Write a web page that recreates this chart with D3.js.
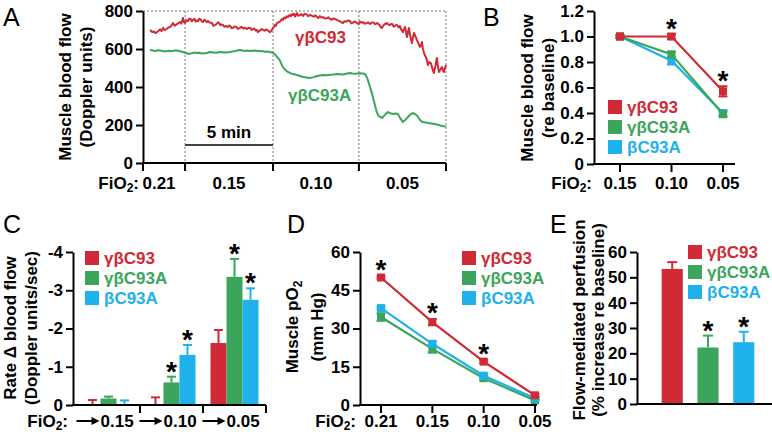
<!DOCTYPE html>
<html>
<head>
<meta charset="utf-8">
<script src="https://cdn.jsdelivr.net/npm/d3@7"></script>
<style>
  body { margin: 0; background: #fff; }
  svg { font-family: "Liberation Sans", Arial, Helvetica, sans-serif; }
</style>
</head>
<body>
<svg width="772" height="432"></svg>
<script>
// ---- data ----
var strains = ["γβC93", "γβC93A", "βC93A"];
var colors = ["#cf2a35", "#3ba65b", "#1fb1ea"];

// A: raw laser-Doppler traces, [minutes, Doppler units]
var redTrace = [[0.40,700],[0.52,690],[0.62,692],[0.70,684],[0.80,689],[0.90,697],[0.97,703],[1.05,694],[1.14,711],[1.22,700],[1.30,702],[1.42,712],[1.53,716],[1.62,724],[1.70,737],[1.80,722],[1.88,728],[2.00,735],[2.10,742],[2.18,733],[2.27,763],[2.33,741],[2.39,737],[2.47,752],[2.56,747],[2.63,760],[2.70,758],[2.77,746],[2.84,753],[2.92,759],[3.00,744],[3.07,751],[3.13,747],[3.20,760],[3.27,756],[3.34,745],[3.41,742],[3.48,754],[3.55,750],[3.62,741],[3.69,747],[3.80,739],[3.92,737],[4.00,722],[4.09,726],[4.20,733],[4.26,741],[4.32,737],[4.40,725],[4.45,729],[4.55,726],[4.62,717],[4.70,721],[4.83,716],[4.90,724],[4.97,719],[5.04,709],[5.11,711],[5.20,719],[5.30,716],[5.40,706],[5.51,711],[5.60,717],[5.70,708],[5.80,712],[5.91,705],[6.00,712],[6.10,711],[6.18,700],[6.25,705],[6.32,708],[6.40,697],[6.47,701],[6.53,689],[6.59,694],[6.65,698],[6.76,705],[6.84,700],[6.90,696],[6.98,703],[7.05,700],[7.14,694],[7.22,689],[7.30,697],[7.39,711],[7.45,718],[7.50,726],[7.55,721],[7.61,737],[7.70,740],[7.80,745],[7.88,757],[7.95,753],[8.02,766],[8.10,761],[8.17,772],[8.24,768],[8.32,778],[8.40,772],[8.46,784],[8.52,779],[8.58,786],[8.65,771],[8.70,780],[8.75,789],[8.83,775],[8.92,778],[9.00,784],[9.09,774],[9.18,785],[9.30,782],[9.38,773],[9.49,779],[9.58,776],[9.70,770],[9.78,777],[9.89,768],[9.96,763],[10.05,773],[10.14,765],[10.23,768],[10.34,760],[10.45,762],[10.53,767],[10.63,758],[10.72,754],[10.82,761],[10.92,757],[11.02,753],[11.10,749],[11.20,745],[11.28,740],[11.36,737],[11.45,746],[11.55,744],[11.65,750],[11.76,747],[11.85,735],[11.95,740],[12.05,745],[12.16,737],[12.25,731],[12.33,745],[12.42,738],[12.50,742],[12.60,733],[12.70,736],[12.80,740],[12.90,732],[13.00,740],[13.10,739],[13.20,730],[13.30,737],[13.38,731],[13.45,725],[13.52,713],[13.58,711],[13.65,722],[13.72,730],[13.80,733],[13.86,737],[13.95,729],[14.03,726],[14.10,732],[14.18,730],[14.25,717],[14.32,721],[14.40,727],[14.46,724],[14.53,714],[14.60,721],[14.68,702],[14.77,689],[14.83,703],[14.89,716],[14.95,690],[15.00,663],[15.05,684],[15.11,711],[15.18,672],[15.28,631],[15.34,660],[15.40,684],[15.48,668],[15.57,647],[15.65,630],[15.74,611],[15.80,620],[15.85,637],[15.91,600],[15.97,580],[16.03,565],[16.08,558],[16.14,540],[16.19,516],[16.27,531],[16.36,526],[16.45,495],[16.53,474],[16.62,512],[16.70,553],[16.76,510],[16.82,479],[16.90,492],[16.99,505],[17.05,488],[17.10,479],[17.16,497],[17.22,516]];
var greenTrace = [[0.40,595],[0.55,592],[0.68,589],[0.82,593],[0.97,592],[1.10,589],[1.25,587],[1.38,590],[1.50,591],[1.60,588],[1.70,589],[1.85,593],[1.99,591],[2.12,588],[2.27,584],[2.38,580],[2.45,580],[2.56,574],[2.66,576],[2.78,578],[2.92,581],[3.07,579],[3.20,580],[3.35,576],[3.50,578],[3.64,579],[3.80,584],[3.98,582],[4.18,580],[4.38,584],[4.52,583],[4.66,581],[4.80,583],[4.94,584],[5.10,587],[5.23,589],[5.37,592],[5.51,595],[5.65,592],[5.80,590],[5.94,592],[6.08,589],[6.22,591],[6.36,592],[6.50,590],[6.65,589],[6.80,588],[6.93,586],[7.08,587],[7.22,584],[7.30,583],[7.39,579],[7.46,575],[7.52,570],[7.61,558],[7.70,550],[7.78,540],[7.86,522],[7.95,505],[8.02,497],[8.10,490],[8.24,479],[8.38,473],[8.52,468],[8.64,466],[8.75,463],[8.92,458],[9.09,453],[9.30,450],[9.49,447],[9.70,452],[9.89,458],[10.05,461],[10.23,463],[10.43,462],[10.63,465],[10.82,466],[11.02,468],[11.20,467],[11.36,466],[11.55,470],[11.76,474],[11.90,471],[12.05,470],[12.20,471],[12.33,472],[12.48,471],[12.61,468],[12.70,455],[12.78,437],[12.84,418],[12.90,400],[12.95,385],[13.01,368],[13.10,333],[13.18,305],[13.26,276],[13.35,253],[13.45,244],[13.58,237],[13.66,245],[13.75,253],[13.84,262],[13.92,268],[14.05,262],[14.20,258],[14.35,261],[14.49,258],[14.62,235],[14.77,216],[14.92,228],[15.06,242],[15.20,256],[15.34,263],[15.45,258],[15.57,250],[15.72,230],[15.85,216],[16.02,214],[16.19,211],[16.40,208],[16.59,205],[16.80,200],[16.99,195],[17.10,193],[17.22,192]];
var phaseLabels = ["0.21", "0.15", "0.10", "0.05"];
var phaseEdges = [0, 2.39, 7.39, 12.27, 17.22];
var flowTicks = [0, 200, 400, 600, 800];

// B: flow relative to baseline
var bFiO2 = ["0.15", "0.10", "0.05"];
var bRed = [1.00, 1.00, 0.57], bRedErr = [0.01, 0.02, 0.04];
var bGreen = [1.00, 0.86, 0.39], bGreenErr = [0.01, 0.02, 0.02];
var bBlue = [1.00, 0.81, 0.40], bBlueErr = [0.01, 0.03, 0.02];
var bRedStar = [0, 1, 1];
var bTicks = [0, 0.2, 0.4, 0.6, 0.8, 1.0, 1.2];

// C: rate of change of blood flow
var cFiO2 = ["0.15", "0.10", "0.05"];
var cRed = [-0.01, 0, -1.62], cRedErr = [0.12, 0.2, 0.34];
var cGreen = [-0.17, -0.59, -3.35], cGreenErr = [0.05, 0.15, 0.47];
var cBlue = [0, -1.31, -2.75], cBlueErr = [0.12, 0.26, 0.3];
var cGreenStar = [0, 1, 1], cBlueStar = [0, 1, 1];
var cTicks = [0, -1, -2, -3, -4];

// D: muscle pO2
var dFiO2 = ["0.21", "0.15", "0.10", "0.05"];
var dRed = [50, 32.5, 17, 3.8], dRedErr = [0.5, 1.2, 0.6, 0.5];
var dGreen = [34.5, 22, 10.5, 1.8], dGreenErr = [1.5, 1.5, 0.6, 0.5];
var dBlue = [38, 24, 11.5, 2.6], dBlueErr = [0.6, 1.0, 0.6, 0.5];
var dRedStar = [1, 1, 1, 0];
var dTicks = [0, 15, 30, 45, 60];

// E: flow-mediated perfusion
var eMean = [53.3, 22.3, 24.4], eErr = [2.7, 4.7, 4.1];
var eStar = [0, 1, 1];
var eTicks = [0, 10, 20, 30, 40, 50, 60];

// ---- helpers ----
var svg = d3.select("svg");
var FS = 17;

function yAxis(g, y, x, ticks, fmt) {
  var ax = g.append("g")
    .attr("transform", "translate(" + x + ",0)")
    .call(d3.axisLeft(y).tickValues(ticks).tickFormat(fmt).tickSize(7).tickSizeOuter(0).tickPadding(3));
  ax.attr("font-family", null).attr("font-size", null);
  ax.select(".domain").attr("stroke-width", 2);
  ax.selectAll(".tick line").attr("stroke-width", 2);
  ax.selectAll(".tick text").attr("font-size", FS).attr("font-weight", "bold").attr("fill", "#000");
}

function xLine(g, x0, x1, y, ticks) {
  g.append("line").attr("x1", x0 - 1).attr("x2", x1).attr("y1", y).attr("y2", y)
    .attr("stroke", "#000").attr("stroke-width", 2);
  g.selectAll(null).data(ticks).enter().append("line")
    .attr("x1", d => d).attr("x2", d => d).attr("y1", y).attr("y2", y + 8)
    .attr("stroke", "#000").attr("stroke-width", 2);
}

function yLabel(g, x, y, lines, gap) {
  var t = g.append("text")
    .attr("transform", "translate(" + x + "," + y + ") rotate(-90)")
    .attr("text-anchor", "middle").attr("font-weight", "bold").attr("font-size", FS);
  lines.forEach((l, i) => {
    t.append("tspan").attr("x", 0).attr("dy", i === 0 ? "0.35em" : (gap || 21)).text(l);
  });
  return t;
}

function fio2(g, xEnd, y) {
  var t = g.append("text").attr("x", xEnd).attr("y", y).attr("text-anchor", "end")
    .attr("font-weight", "bold").attr("font-size", FS);
  t.append("tspan").text("FiO");
  t.append("tspan").attr("font-size", 12).attr("dy", 3).text("2");
  t.append("tspan").attr("dy", -3).text(":");
}

function panelLetter(x, y, s) {
  svg.append("text").attr("x", x).attr("y", y).attr("font-size", 25).text(s);
}

function legend(g, x, y, dy) {
  strains.forEach((s, i) => {
    g.append("rect").attr("x", x).attr("y", y + i * dy - 7).attr("width", 14).attr("height", 14)
      .attr("fill", colors[i]);
    g.append("text").attr("x", x + 19).attr("y", y + i * dy + 6)
      .attr("font-weight", "bold").attr("font-size", FS).attr("fill", colors[i]).text(s);
  });
}

function star(g, x, y) {
  g.append("text").attr("x", x).attr("y", y + 16).attr("text-anchor", "middle")
    .attr("font-weight", "bold").attr("font-size", 28).text("*");
}

function errBar(g, x, y1, y2, color, cap, both) {
  g.append("line").attr("x1", x).attr("x2", x).attr("y1", y1).attr("y2", y2)
    .attr("stroke", color).attr("stroke-width", 2);
  g.append("line").attr("x1", x - cap / 2).attr("x2", x + cap / 2).attr("y1", y2).attr("y2", y2)
    .attr("stroke", color).attr("stroke-width", 2);
  if (both) g.append("line").attr("x1", x - cap / 2).attr("x2", x + cap / 2).attr("y1", y1).attr("y2", y1)
    .attr("stroke", color).attr("stroke-width", 2);
}

// ---- A ----
var gA = svg.append("g");
var xA = d3.scaleLinear().domain([0, 17.22]).range([143, 446]);
var yA = d3.scaleLinear().domain([0, 800]).range([163, 11]);

gA.selectAll(".grid").data(phaseEdges.slice(1)).enter().append("line")
  .attr("x1", d => xA(d)).attr("x2", d => xA(d)).attr("y1", yA(800)).attr("y2", yA(0))
  .attr("stroke", "#777").attr("stroke-width", 1).attr("stroke-dasharray", "2,2");
gA.append("line").attr("x1", xA(0)).attr("x2", xA(17.22)).attr("y1", yA(800)).attr("y2", yA(800))
  .attr("stroke", "#777").attr("stroke-width", 1).attr("stroke-dasharray", "2,2");

var lineA = d3.line().x(d => xA(d[0])).y(d => yA(d[1]));
gA.append("path").datum(redTrace).attr("d", lineA).attr("fill", "none")
  .attr("stroke", colors[0]).attr("stroke-width", 2).attr("stroke-linejoin", "round");
gA.append("path").datum(greenTrace).attr("d", lineA).attr("fill", "none")
  .attr("stroke", colors[1]).attr("stroke-width", 2).attr("stroke-linejoin", "round");

yAxis(gA, yA, 143, flowTicks, d3.format("d"));
xLine(gA, 143, 446, 163, phaseEdges.map(xA));
gA.selectAll(".ph").data(phaseLabels).enter().append("text")
  .attr("x", (d, i) => xA((phaseEdges[i] + phaseEdges[i + 1]) / 2) - (i === 0 ? 5 : 0))
  .attr("y", 189).attr("text-anchor", "middle").attr("font-weight", "bold").attr("font-size", FS).text(d => d);
fio2(gA, 139, 189);
yLabel(gA, 65, 87, ["Muscle blood flow", "(Doppler units)"]);

// scale bar
gA.append("line").attr("x1", xA(phaseEdges[1])).attr("x2", xA(phaseEdges[1] + 5))
  .attr("y1", yA(95)).attr("y2", yA(95)).attr("stroke", "#444").attr("stroke-width", 2);
gA.append("text").attr("x", xA(phaseEdges[1] + 2.5)).attr("y", yA(95) - 7).attr("text-anchor", "middle")
  .attr("font-weight", "bold").attr("font-size", FS).text("5 min");
gA.append("text").attr("x", 295).attr("y", 43).attr("font-weight", "bold").attr("font-size", FS)
  .attr("fill", colors[0]).text(strains[0]);
gA.append("text").attr("x", 288).attr("y", 101).attr("font-weight", "bold").attr("font-size", FS)
  .attr("fill", colors[1]).text(strains[1]);
panelLetter(3, 26, "A");

// ---- B ----
var gB = svg.append("g");
var xB = d3.scalePoint().domain(bFiO2).range([620, 723]);
var yB = d3.scaleLinear().domain([0, 1.2]).range([164, 11]);
yAxis(gB, yB, 594, bTicks, d => d === 0 ? "0" : d3.format(".1f")(d));
xLine(gB, 594, 735, 164, bFiO2.map(xB));
gB.selectAll(".xl").data(bFiO2).enter().append("text")
  .attr("x", d => xB(d)).attr("y", 189).attr("text-anchor", "middle")
  .attr("font-weight", "bold").attr("font-size", FS).text(d => d);
fio2(gB, 592, 189);
yLabel(gB, 527, 88, ["Muscle blood flow", "(re baseline)"]);

[[bBlue, bBlueErr, 2], [bGreen, bGreenErr, 1], [bRed, bRedErr, 0]].forEach(s => {
  var vals = s[0], errs = s[1], c = colors[s[2]];
  gB.append("path").datum(vals)
    .attr("d", d3.line().x((d, i) => xB(bFiO2[i])).y(d => yB(d)))
    .attr("fill", "none").attr("stroke", c).attr("stroke-width", 2.2);
  vals.forEach((v, i) => {
    errBar(gB, xB(bFiO2[i]), yB(v - errs[i]), yB(v + errs[i]), c, 9, true);
    gB.append("rect").attr("x", xB(bFiO2[i]) - 4).attr("y", yB(v) - 4).attr("width", 8).attr("height", 8).attr("fill", c);
  });
});
bRed.forEach((v, i) => { if (bRedStar[i]) star(gB, xB(bFiO2[i]), yB(v + bRedErr[i]) - 12); });
legend(gB, 608, 107, 20);
panelLetter(483, 26, "B");

// ---- C ----
var gC = svg.append("g");
var xC = d3.scaleBand().domain(cFiO2).range([77, 266]).paddingInner(0.238).paddingOuter(0.119);
var xCs = d3.scaleBand().domain(strains).range([0, xC.bandwidth()]);
var yC = d3.scaleLinear().domain([0, -4]).range([405, 252]);
[[cRed, cRedErr, 0, null], [cGreen, cGreenErr, 1, cGreenStar], [cBlue, cBlueErr, 2, cBlueStar]].forEach(s => {
  var vals = s[0], errs = s[1], k = s[2], stars = s[3];
  vals.forEach((v, i) => {
    var x = xC(cFiO2[i]) + xCs(strains[k]);
    var cx = x + xCs.bandwidth() / 2;
    errBar(gC, cx, yC(v), yC(v - errs[i]), colors[k], 9, false);
    if (v !== 0) gC.append("rect").attr("x", x).attr("y", yC(v)).attr("width", xCs.bandwidth())
      .attr("height", yC(0) - yC(v)).attr("fill", colors[k]);
    if (stars && stars[i]) star(gC, cx, yC(v - errs[i]) - 12);
  });
});
yAxis(gC, yC, 73, cTicks, d => String(d));
xLine(gC, 73, 266, 405, cFiO2.map(d => xC(d) + xC.bandwidth() + xC.step() * 0.119));
// group labels with arrows
cFiO2.forEach(d => {
  var c = xC(d) + xC.bandwidth() / 2;
  gC.append("line").attr("x1", c - 32).attr("x2", c - 15).attr("y1", 421).attr("y2", 421)
    .attr("stroke", "#000").attr("stroke-width", 2);
  gC.append("path").attr("d", "M" + (c - 17) + ",417 L" + (c - 9) + ",421 L" + (c - 17) + ",425 Z").attr("fill", "#000");
  gC.append("text").attr("x", c - 8).attr("y", 427).attr("font-weight", "bold").attr("font-size", FS).text(d);
});
fio2(gC, 68, 427);
yLabel(gC, 10, 328, ["Rate \u0394 blood flow", "(Doppler units/sec)"]);
legend(gC, 85, 258, 20);
panelLetter(3, 233, "C");

// ---- D ----
var gD = svg.append("g");
var xD = d3.scalePoint().domain(dFiO2).range([381, 535]);
var yD = d3.scaleLinear().domain([0, 60]).range([405, 252]);
[[dGreen, dGreenErr, 1], [dBlue, dBlueErr, 2], [dRed, dRedErr, 0]].forEach(s => {
  var vals = s[0], errs = s[1], c = colors[s[2]];
  gD.append("path").datum(vals)
    .attr("d", d3.line().x((d, i) => xD(dFiO2[i])).y(d => yD(d)))
    .attr("fill", "none").attr("stroke", c).attr("stroke-width", 2.2);
  vals.forEach((v, i) => {
    errBar(gD, xD(dFiO2[i]), yD(v - errs[i]), yD(v + errs[i]), c, 9, true);
    gD.append("rect").attr("x", xD(dFiO2[i]) - 4).attr("y", yD(v) - 4).attr("width", 8).attr("height", 8).attr("fill", c);
  });
});
dRed.forEach((v, i) => { if (dRedStar[i]) star(gD, xD(dFiO2[i]), yD(v + dRedErr[i]) - 13); });
yAxis(gD, yD, 360, dTicks, d3.format("d"));
xLine(gD, 360, 537, 405, dFiO2.map(xD));
gD.selectAll(".xl").data(dFiO2).enter().append("text")
  .attr("x", d => xD(d)).attr("y", 427).attr("text-anchor", "middle")
  .attr("font-weight", "bold").attr("font-size", FS).text(d => d);
fio2(gD, 356, 427);
var dl = yLabel(gD, 292, 327, ["Muscle pO", "(mm Hg)"]);
dl.select("tspan").append("tspan").attr("font-size", 12).attr("dy", 4).text("2");
legend(gD, 462, 258, 20);
panelLetter(287, 233, "D");

// ---- E ----
var gE = svg.append("g");
var xE = d3.scaleBand().domain(strains).range([647, 769]).padding(0.41);
var yE = d3.scaleLinear().domain([0, 60]).range([404, 252]);
eMean.forEach((v, i) => {
  var x = xE(strains[i]), cx = x + xE.bandwidth() / 2;
  errBar(gE, cx, yE(v), yE(v + eErr[i]), colors[i], 10, false);
  gE.append("rect").attr("x", x).attr("y", yE(v)).attr("width", xE.bandwidth())
    .attr("height", yE(0) - yE(v)).attr("fill", colors[i]);
  if (eStar[i]) star(gE, cx, yE(v + eErr[i]) - 12);
});
yAxis(gE, yE, 637, eTicks, d3.format("d"));
gE.append("line").attr("x1", 636).attr("x2", 772).attr("y1", 404).attr("y2", 404)
  .attr("stroke", "#000").attr("stroke-width", 2);
yLabel(gE, 579, 320, ["Flow-mediated perfusion", "(% increase re baseline)"], 19);
legend(gE, 688, 252, 20);
panelLetter(550, 233, "E");
</script>
</body>
</html>
